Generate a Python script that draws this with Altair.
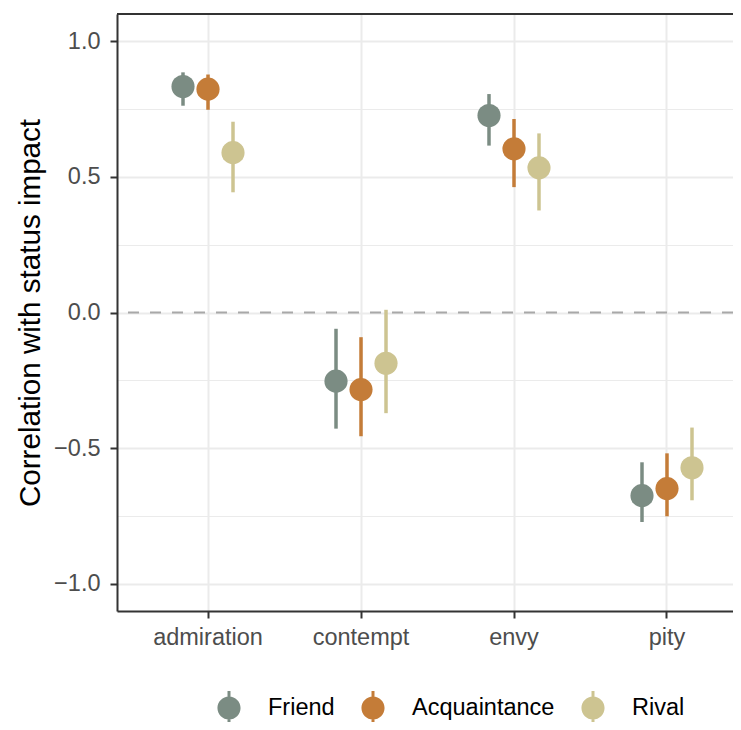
import altair as alt
import pandas as pd

emotions = ["admiration", "contempt", "envy", "pity"]
relations = ["Friend", "Acquaintance", "Rival"]
colors = ["#7b8c83", "#c47c38", "#cdc491"]

friend_est = [0.833, -0.253, 0.726, -0.675]
friend_lo = [0.762, -0.428, 0.615, -0.772]
friend_hi = [0.885, -0.060, 0.805, -0.552]

acq_est = [0.823, -0.284, 0.603, -0.649]
acq_lo = [0.747, -0.456, 0.462, -0.751]
acq_hi = [0.877, -0.091, 0.713, -0.519]

rival_est = [0.589, -0.187, 0.533, -0.572]
rival_lo = [0.443, -0.371, 0.376, -0.692]
rival_hi = [0.703, 0.010, 0.660, -0.424]

y_ticks = [-1.0, -0.75, -0.5, -0.25, 0.0, 0.25, 0.5, 0.75, 1.0]
y_domain = [-1.1, 1.1]
ref_line = [0.0]

rows = []
for rel, est, lo, hi in [
    ("Friend", friend_est, friend_lo, friend_hi),
    ("Acquaintance", acq_est, acq_lo, acq_hi),
    ("Rival", rival_est, rival_lo, rival_hi),
]:
    for e, v, l, h in zip(emotions, est, lo, hi):
        rows.append({"emotion": e, "relation": rel, "est": v, "lo": l, "hi": h})
df = pd.DataFrame(rows)

FONT = "Liberation Sans"
DARK = "#333333"
major = "abs(datum.value*2 - round(datum.value*2)) < 0.000001"

x_enc = alt.X(
    "emotion:N",
    sort=emotions,
    scale=alt.Scale(type="band", paddingInner=0.5, paddingOuter=0.2631, align=0.6553),
    axis=alt.Axis(
        title=None,
        labelFontSize=23.5,
        labelColor="#4d4d4d",
        labelFont=FONT,
        labelAngle=0,
        labelPadding=7,
        tickSize=7,
        tickWidth=2,
        tickColor=DARK,
        grid=True,
        gridColor="#ebebeb",
        gridWidth=2,
        domain=True,
        domainColor=DARK,
        domainWidth=2,
    ),
)
xoff_enc = alt.XOffset(
    "relation:N",
    sort=relations,
    scale=alt.Scale(type="band", paddingInner=0, paddingOuter=0.03),
)

y_scale = alt.Scale(domain=y_domain, nice=False, zero=False)
y_axis = alt.Axis(
    title="Correlation with status impact",
    titleFontSize=29.6,
    titleFontWeight="normal",
    titleColor="black",
    titleFont=FONT,
    titlePadding=8,
    values=y_ticks,
    format=".1f",
    labelExpr=f"{major} ? datum.label : ''",
    labelFontSize=23.5,
    labelColor="#4d4d4d",
    labelFont=FONT,
    labelPadding=10,
    tickSize=7,
    tickWidth=2,
    tickColor=DARK,
    tickOpacity={"condition": {"test": major, "value": 1}, "value": 0},
    grid=True,
    gridColor="#ebebeb",
    gridWidth={"condition": {"test": major, "value": 2}, "value": 1.2},
    domain=True,
    domainColor=DARK,
    domainWidth=2,
)

zero = alt.Chart(pd.DataFrame({"v": ref_line})).mark_rule(
    color="#a8a8a8", strokeWidth=2.2, strokeDash=[11, 11]
).encode(y=alt.Y("v:Q", scale=y_scale, axis=y_axis))

top_border = alt.Chart(pd.DataFrame({"v": [y_domain[1]]})).mark_rule(
    color=DARK, strokeWidth=2
).encode(y=alt.Y("v:Q", scale=y_scale, axis=y_axis))

# stroke scale gets a data-derived domain (sorted), so its legend (disabled)
# is not merged with the colour legend of the points
bars = alt.Chart(df).mark_rule(strokeWidth=3.5).encode(
    x=x_enc,
    xOffset=xoff_enc,
    y=alt.Y("lo:Q", scale=y_scale, axis=y_axis),
    y2="hi:Q",
    stroke=alt.Stroke(
        "relation:N",
        sort=relations,
        scale=alt.Scale(range=colors),
        legend=None,
    ),
)

legend_path = (
    "M-0.088,-1 H0.088 V1 H-0.088 Z "
    "M0.68,0 A0.68,0.68 0 1 1 -0.68,0 A0.68,0.68 0 1 1 0.68,0 Z"
)

points = alt.Chart(df).mark_circle(size=535, opacity=1).encode(
    x=x_enc,
    xOffset=xoff_enc,
    y=alt.Y("est:Q", scale=y_scale, axis=y_axis),
    color=alt.Color(
        "relation:N",
        sort=relations,
        scale=alt.Scale(domain=relations, range=colors),
        legend=alt.Legend(
            title=None,
            orient="none",
            direction="horizontal",
            legendX=95,
            legendY=677,
            symbolType=legend_path,
            symbolSize=1156,
            symbolStrokeWidth=0,
            symbolOpacity=1,
            labelFontSize=23.5,
            labelColor="black",
            labelFont=FONT,
            labelOffset=22,
            columnPadding=21,
            padding=0,
        ),
    ),
)

chart = (
    alt.layer(zero, top_border, bars, points)
    .properties(
        width=616,
        height=597,
        autosize=alt.AutoSizeParams(type="none"),
        padding={"left": 109, "top": 6, "right": 0, "bottom": 111},
        background="white",
    )
    .configure_view(stroke=None)
)

chart.save("out.html", embed_options={"renderer": "svg", "actions": False})
